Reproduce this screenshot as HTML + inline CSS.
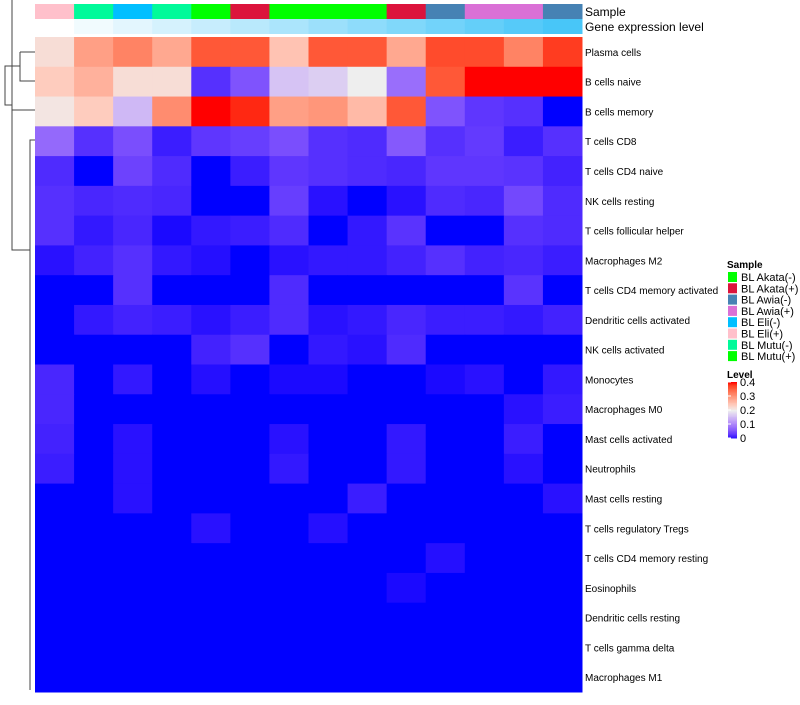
<!DOCTYPE html>
<html><head><meta charset="utf-8"><style>
body{margin:0;background:#fff;font-family:"Liberation Sans",sans-serif}
svg text{font-family:"Liberation Sans",sans-serif}
</style></head><body>
<svg id="chart" width="800" height="700">
<g id="dendro" stroke="#444" fill="none" stroke-width="1">
<path d="M20,52 H35 M20,52 V81 H35 M20,66 H5 V105 H12 M12,110 H35 M12,110 V0 M12,90 V250 H30 M30,250 V140 H35 M30,250 V690"/>
</g>
<g id="cells"></g><g id="annot"></g><g id="labels"></g><g id="legend"></g>
</svg>
<script>
const rowNames=["Plasma cells","B cells naive","B cells memory","T cells CD8","T cells CD4 naive","NK cells resting","T cells follicular helper","Macrophages M2","T cells CD4 memory activated","Dendritic cells activated","NK cells activated","Monocytes","Macrophages M0","Mast cells activated","Neutrophils","Mast cells resting","T cells regulatory  Tregs","T cells CD4 memory resting","Eosinophils","Dendritic cells resting","T cells gamma delta","Macrophages M1"];
const values=[
[0.22,0.29,0.32,0.28,0.36,0.36,0.25,0.36,0.36,0.28,0.37,0.37,0.32,0.38],
[0.24,0.27,0.22,0.22,0.025,0.055,0.16,0.17,0.2,0.08,0.36,0.4,0.4,0.4],
[0.21,0.24,0.15,0.31,0.4,0.39,0.29,0.3,0.26,0.36,0.055,0.03,0.025,0.0],
[0.075,0.025,0.05,0.012,0.03,0.036,0.05,0.025,0.021,0.06,0.025,0.033,0.012,0.025],
[0.021,0.0,0.04,0.021,0.0,0.012,0.03,0.025,0.021,0.018,0.03,0.03,0.027,0.015],
[0.025,0.018,0.021,0.018,0,0,0.036,0.006,0,0.006,0.021,0.018,0.045,0.021],
[0.025,0.009,0.018,0.003,0.009,0.012,0.021,0,0.009,0.027,0,0,0.025,0.021],
[0.006,0.015,0.025,0.009,0.005,0,0.006,0.009,0.009,0.015,0.025,0.015,0.018,0.012],
[0,0,0.025,0,0,0,0.021,0,0,0,0,0,0.027,0],
[0,0.009,0.015,0.012,0.006,0.012,0.021,0.006,0.009,0.018,0.012,0.012,0.009,0.015],
[0,0,0,0,0.015,0.025,0,0.009,0.006,0.021,0,0,0,0],
[0.018,0,0.009,0,0.005,0,0.003,0.003,0,0,0.003,0.006,0,0.009],
[0.018,0,0,0,0,0,0,0,0,0,0,0,0.006,0.012],
[0.015,0,0.006,0,0,0,0.006,0,0,0.009,0,0,0.012,0],
[0.012,0,0.006,0,0,0,0.009,0,0,0.009,0,0,0.006,0],
[0,0,0.006,0,0,0,0,0,0.012,0,0,0,0,0.006],
[0,0,0,0,0.006,0,0,0.005,0,0,0,0,0,0],
[0,0,0,0,0,0,0,0,0,0,0.005,0,0,0],
[0,0,0,0,0,0,0,0,0,0.003,0,0,0,0],
[0,0,0,0,0,0,0,0,0,0,0,0,0,0],
[0,0,0,0,0,0,0,0,0,0,0,0,0,0],
[0,0,0,0,0,0,0,0,0,0,0,0,0,0]];
const sampleCols=["#FFC0CB","#00FA9A","#00BFFF","#00FA9A","#00FF00","#DC143C","#00FF00","#00FF00","#00FF00","#DC143C","#4682B4","#DA70D6","#DA70D6","#4682B4"];
const geneLevel=[0,1,2,3,4,5,6,7,8,9,10,11,12,13];
const legendNames=["BL Akata(-)","BL Akata(+)","BL Awia(-)","BL Awia(+)","BL Eli(-)","BL Eli(+)","BL Mutu(-)","BL Mutu(+)"];
const legendCols=["#00FF00","#DC143C","#4682B4","#DA70D6","#00BFFF","#FFC0CB","#00FA9A","#00FF00"];
const levelTicks=[0,0.1,0.2,0.3,0.4];
const NS="http://www.w3.org/2000/svg";
const x0=35,x1=582,y0=37,y1=692,nC=14,nR=rowNames.length;
const cw=(x1-x0)/nC,rh=(y1-y0)/nR;
const xs=i=>x0+i*cw, ys=j=>y0+j*rh;
function lerp(a,b,t){return a.map((v,i)=>Math.round(v+(b[i]-v)*t));}
function s2l(c){c/=255;return c<=0.04045?c/12.92:Math.pow((c+0.055)/1.055,2.4);}
function l2s(c){c=c<=0.0031308?12.92*c:1.055*Math.pow(c,1/2.4)-0.055;return Math.max(0,Math.min(255,Math.round(c*255)));}
function toLab(rgb){const [r,g,b]=rgb.map(s2l);
 let X=(0.4124*r+0.3576*g+0.1805*b)/0.95047,Y=0.2126*r+0.7152*g+0.0722*b,Z=(0.0193*r+0.1192*g+0.9505*b)/1.08883;
 const f=t=>t>0.008856?Math.cbrt(t):7.787*t+16/116;
 const fx=f(X),fy=f(Y),fz=f(Z);return [116*fy-16,500*(fx-fy),200*(fy-fz)];}
function fromLab(lab){const fy=(lab[0]+16)/116,fx=fy+lab[1]/500,fz=fy-lab[2]/200;
 const fi=t=>t*t*t>0.008856?t*t*t:(t-16/116)/7.787;
 const X=fi(fx)*0.95047,Y=fi(fy),Z=fi(fz)*1.08883;
 const r=3.2406*X-1.5372*Y-0.4986*Z,g=-0.9689*X+1.8758*Y+0.0415*Z,b=0.0557*X-0.2040*Y+1.0570*Z;
 return [l2s(r),l2s(g),l2s(b)];}
const LB=toLab([0,0,255]),LW=toLab([238,238,238]),LR=toLab([255,0,0]);
function col(v){const t=Math.max(0,Math.min(1,v/0.4));
 const lab=t<0.5?LB.map((a,i)=>a+(LW[i]-a)*t*2):LW.map((a,i)=>a+(LR[i]-a)*(t-0.5)*2);
 return `rgb(${fromLab(lab)})`;}
function mk(tag,at,parent){const e=document.createElementNS(NS,tag);for(const k in at)e.setAttribute(k,at[k]);parent.appendChild(e);return e;}
const cells=document.getElementById('cells');
values.forEach((row,j)=>row.forEach((v,i)=>{
 const r=mk('rect',{x:xs(i),y:ys(j),width:cw+0.5,height:rh+0.5,fill:col(v)},cells);
 
 
}));
const annot=document.getElementById('annot');
sampleCols.forEach((c,i)=>{
 const r=mk('rect',{x:xs(i),y:4,width:cw+0.5,height:15,fill:c},annot);
 
 
 const g=geneLevel[i]/13;
 const r2=mk('rect',{x:xs(i),y:19,width:cw+0.5,height:15,fill:`rgb(${lerp([255,255,255],[72,198,248],g)})`},annot);
 
 
});
const labels=document.getElementById('labels');
let t=mk('text',{x:585,y:16,'font-size':12},labels);t.textContent="Sample";

t=mk('text',{x:585,y:31,'font-size':12},labels);t.textContent="Gene expression level";

rowNames.forEach((n,j)=>{
 const e=mk('text',{x:585,y:ys(j)+rh/2+4,'font-size':10},labels);e.textContent=n;
 
 
});
const lg=document.getElementById('legend');
t=mk('text',{x:727,y:268,'font-size':10,'font-weight':'bold'},lg);t.textContent="Sample";

legendNames.forEach((n,i)=>{
 const r=mk('rect',{x:728,y:272+i*11.3,width:9,height:10,fill:legendCols[i]},lg);
 
 
 const e=mk('text',{x:741,y:281+i*11.3,'font-size':11},lg);e.textContent=n;
 
 
});
t=mk('text',{x:727,y:378,'font-size':10,'font-weight':'bold'},lg);t.textContent="Level";

const gy0=382,gy1=438;
for(let k=0;k<40;k++){const v=0.4*(1-k/40);
 const r=mk('rect',{x:728,y:gy0+k*(gy1-gy0)/40,width:9,height:(gy1-gy0)/40+0.5,fill:col(v)},lg);
 
 }
levelTicks.forEach(v=>{const y=gy1-(v/0.4)*(gy1-gy0);
 const e=mk('text',{x:740,y:y+4,'font-size':11},lg);e.textContent=String(v);
 
 
 const l=mk('line',{x1:728,x2:731,y1:y,y2:y,stroke:'#fff'},lg);
 
 
});
</script>
</body></html>
